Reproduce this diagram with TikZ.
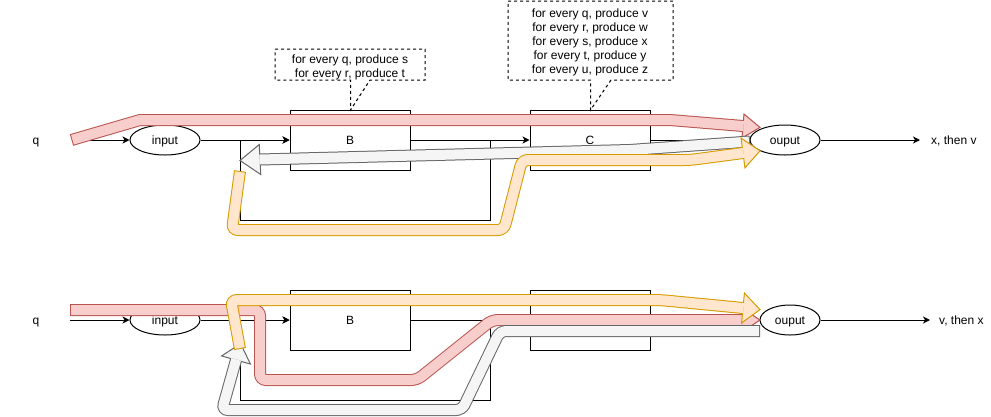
\documentclass[tikz,border=0pt]{standalone}
\usepackage{fontspec}
\setmainfont{Liberation Sans}
\usetikzlibrary{calc,arrows.meta,shapes.geometric}
\definecolor{redF}{HTML}{F8CECC}
\definecolor{redS}{HTML}{B85450}
\definecolor{grayF}{HTML}{F5F5F5}
\definecolor{grayS}{HTML}{666666}
\definecolor{orF}{HTML}{FFE6CC}
\definecolor{orS}{HTML}{D79B00}
% #1 options, #2 stroke, #3 fill, #4 path, #5 base, #6 tip, #7 half width of head
\newcommand\flexarr[7]{%
  \draw[#1, draw=#2, line width=12pt] #4;
  \filldraw[draw=#2, fill=#3, line width=1pt, line join=miter]
    ($(#5)!#7!90:(#6)$) -- (#6) -- ($(#5)!#7!-90:(#6)$) -- cycle;
  \draw[#1, draw=#3, line width=10pt, shorten <=1pt, shorten >=-0.6pt] #4;
}
\tikzset{
  one/.style={text height=10.5pt, text depth=2pt},
  txt/.style={font=\fontsize{12}{14}\selectfont, inner sep=0pt},
  box/.style={draw, one, line width=1pt, minimum width=120pt, minimum height=60pt, inner sep=0pt, font=\fontsize{12}{14}\selectfont},
  ell/.style={draw, one, ellipse, line width=1pt, minimum width=70pt, minimum height=30pt, inner sep=0pt, font=\fontsize{12}{14}\selectfont},
  conn/.style={line width=1pt, -{Stealth[length=7pt,width=7pt,inset=2pt]}},
  callout/.style={line width=1pt, dash pattern=on 3pt off 3pt},
  notetxt/.style={txt, align=center}
}
\begin{document}
\begin{tikzpicture}[x=1pt,y=-1pt]
\useasboundingbox (0,0) rectangle (991,416);

% ---------- callouts ----------
\draw[callout] (275,49) -- (425,49) -- (425,80) -- (370,80) -- (350.5,110) -- (350.5,80) -- (275,80) -- cycle;
\node[notetxt] (nB) at (350,67.5) {for every q, produce s\\for every r, produce t};
\draw[callout] (508,1) -- (673,1) -- (673,80) -- (611,80) -- (590.5,110) -- (590.5,80) -- (508,80) -- cycle;
\node[notetxt] (nC) at (590,42.5) {for every q, produce v\\for every r, produce w\\for every s, produce x\\for every t, produce y\\for every u, produce z};

% ---------- top diagram ----------
\node[txt, one, minimum width=74pt] (q1) at (36,140) {q};
\node[ell] (in1) at (165,140) {input};
\node[box] (B1) at (350,140) {B};
\node[box] (C1) at (590,140) {C};
\node[ell] (out1) at (785,140) {ouput};
\node[txt, one, anchor=west, inner xsep=11pt] (r1) at (920,140) {x, then v};
\coordinate (L1a) at (490,220);
\coordinate (L1b) at (240,220);
\draw[conn] (q1) -- (in1);
\draw[conn] (in1) -- (B1);
\draw[conn] (B1) -- (C1);
\draw[conn] (C1) -- (out1);
\draw[conn] (out1) -- (r1);
\draw[conn] (B1.east) -| (L1a) -- (L1b) |- (B1.west);

% ---------- bottom diagram ----------
\node[txt, one, minimum width=68pt] (q2) at (36,320) {q};
\node[ell] (in2) at (165,320) {input};
\node[box] (B2) at (350,320) {B};
\node[box] (C2) at (590,320) {C};
\node[ell, minimum width=60pt] (out2) at (790,320) {ouput};
\node[txt, one, anchor=west, inner xsep=9pt] (r2) at (930,320) {v, then x};
\coordinate (L2a) at (490,400);
\coordinate (L2b) at (240,400);
\draw[conn] (q2) -- (in2);
\draw[conn] (in2) -- (B2);
\draw[conn] (B2) -- (C2);
\draw[conn] (C2) -- (out2);
\draw[conn] (out2) -- (r2);
\draw[conn] (B2.east) -| (L2a) -- (L2b) |- (B2.west);

% ---------- flow arrows, top ----------
\coordinate (R1a) at (71.5,140);
\coordinate (R1b) at (140,120);
\coordinate (R1c) at (670,120);
\coordinate (R1base) at (743,126);
\coordinate (R1tip) at (760,127.4);
\flexarr{sharp corners}{redS}{redF}{(R1a) -- (R1b) -- (R1c) -- (R1base)}{R1base}{R1tip}{12pt}

\coordinate (G1a) at (750,141.5);
\coordinate (G1b) at (630,150);
\coordinate (G1base) at (260,159.5);
\coordinate (G1tip) at (240,160.5);
\flexarr{sharp corners}{grayS}{grayF}{(G1a) -- (G1b) -- (G1base)}{G1base}{G1tip}{15pt}

\coordinate (O1a) at (240,171);
\coordinate (O1b) at (232,230);
\coordinate (O1c) at (504,230);
\coordinate (O1d) at (522,160);
\coordinate (O1e) at (690,160);
\coordinate (O1base) at (743,153);
\coordinate (O1tip) at (760,150.8);
\flexarr{rounded corners=6pt}{orS}{orF}{(O1a) -- (O1b) -- (O1c) -- (O1d) -- (O1e) -- (O1base)}{O1base}{O1tip}{15pt}

% ---------- flow arrows, bottom ----------
\coordinate (R2a) at (70,310);
\coordinate (R2b) at (260,310);
\coordinate (R2c) at (260,380);
\coordinate (R2d) at (417,380);
\coordinate (R2e) at (492,320);
\coordinate (R2base) at (742,320);
\coordinate (R2tip) at (760,320);
\flexarr{rounded corners=6pt}{redS}{redF}{(R2a) -- (R2b) -- (R2c) -- (R2d) -- (R2e) -- (R2base)}{R2base}{R2tip}{12pt}

\coordinate (G2a) at (760,331);
\coordinate (G2b) at (500,331);
\coordinate (G2c) at (462,410);
\coordinate (G2d) at (222,410);
\coordinate (G2base) at (236,360);
\coordinate (G2tip) at (240.6,343.6);
\flexarr{rounded corners=6pt}{grayS}{grayF}{(G2a) -- (G2b) -- (G2c) -- (G2d) -- (G2base)}{G2base}{G2tip}{15pt}

\coordinate (O2a) at (240,349);
\coordinate (O2b) at (231,300);
\coordinate (O2c) at (660,300);
\coordinate (O2base) at (743,308);
\coordinate (O2tip) at (760,309.6);
\flexarr{rounded corners=6pt}{orS}{orF}{(O2a) -- (O2b) -- (O2c) -- (O2base)}{O2base}{O2tip}{15pt}
\end{tikzpicture}
\end{document}
